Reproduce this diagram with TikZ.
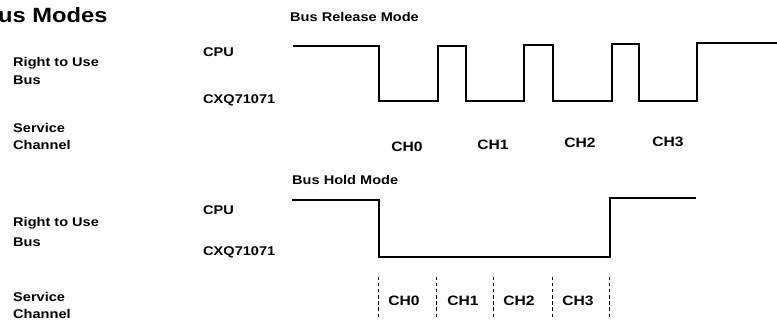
\documentclass[tikz,border=0pt]{standalone}
\usepackage{fontspec}
\setmainfont{Liberation Sans}[FakeStretch=1.15]
\begin{document}
\begin{tikzpicture}[x=0.03cm,y=-0.03cm,
    lbl/.style={anchor=west,inner sep=0pt,font=\bfseries\fontsize{10.8}{12}\selectfont},
    chlbl/.style={inner sep=0pt,font=\bfseries\fontsize{11.6}{13}\selectfont},
    ttl/.style={anchor=west,inner sep=0pt,font=\bfseries\fontsize{17.6}{19}\selectfont},
    wave/.style={line width=2.3pt,line join=miter},
    sep/.style={line width=0.6pt,dash pattern=on 2.8pt off 2.4pt}]
        \useasboundingbox (0,0) rectangle (777,322);
        % Title
        \node[ttl] (title) at (-2,15) {us Modes};
        % Bus Release Mode, left labels
        \node[lbl] (rtuA) at (13,63) {Right to Use};
        \node[lbl] (busA) at (13,80) {Bus};
        \node[lbl] (svcA) at (13,128) {Service};
        \node[lbl] (chnA) at (13,145) {Channel};
        \node[lbl] (cpuA) at (203,52) {CPU};
        \node[lbl] (cxqA) at (203,100) {CXQ71071};
        \node[lbl] (relmode) at (290,17) {Bus Release Mode};
        % Bus Release Mode, waveform
        \draw[wave] (293,46) -- (379,46) -- (379,101) -- (438,101) -- (438,46) -- (466,46)
            -- (466,101) -- (524,101) -- (524,45) -- (553,45) -- (553,101) -- (612,101)
            -- (612,44) -- (639,44) -- (639,101) -- (697,101) -- (697,43) -- (777,43);
        % Bus Release Mode, channels
        \node[chlbl] (chA0) at (407,147) {CH0};
        \node[chlbl] (chA1) at (493,145) {CH1};
        \node[chlbl] (chA2) at (580,143) {CH2};
        \node[chlbl] (chA3) at (668,142) {CH3};
        % Bus Hold Mode, left labels
        \node[lbl] (rtuB) at (13,223) {Right to Use};
        \node[lbl] (busB) at (13,242) {Bus};
        \node[lbl] (svcB) at (13,297) {Service};
        \node[lbl] (chnB) at (13,314) {Channel};
        \node[lbl] (cpuB) at (203,210) {CPU};
        \node[lbl] (cxqB) at (203,252) {CXQ71071};
        \node[lbl] (holdmode) at (292,180) {Bus Hold Mode};
        % Bus Hold Mode, waveform
        \draw[wave] (292,200) -- (379,200) -- (379,257) -- (610,257) -- (610,198) -- (696,198);
        % Bus Hold Mode, channel slots
        \draw[sep] (378,277) -- (378,317);
        \draw[sep] (436,277) -- (436,317);
        \draw[sep] (493,277) -- (493,317);
        \draw[sep] (552,277) -- (552,317);
        \draw[sep] (609,277) -- (609,317);
        \node[chlbl] (chB0) at (404,301) {CH0};
        \node[chlbl] (chB1) at (463,301) {CH1};
        \node[chlbl] (chB2) at (519,301) {CH2};
        \node[chlbl] (chB3) at (578,301) {CH3};
    \end{tikzpicture}
\end{document}
